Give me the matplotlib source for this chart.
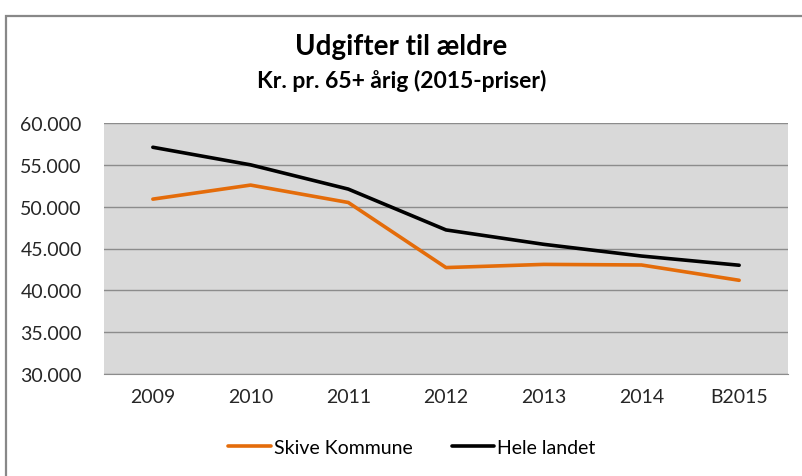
import matplotlib.pyplot as plt
from matplotlib.patches import Rectangle
from matplotlib.ticker import FuncFormatter

plt.rcParams['font.family'] = ['Lato', 'DejaVu Sans']

# Data
years = ["2009", "2010", "2011", "2012", "2013", "2014", "B2015"]
skive = [50900, 52580, 50500, 42720, 43100, 43030, 41200]
hele_landet = [57100, 55000, 52100, 47220, 45500, 44100, 43000]

fig = plt.figure(figsize=(8.03, 4.77), dpi=100)
W, H = 803, 477

# outer chart frame (cut off at right and bottom like the reference)
fig.patches.append(Rectangle((6 / W, -0.1), 1.2, 1 - 17 / H + 0.1,
                             transform=fig.transFigure, fill=False,
                             edgecolor="#888888", linewidth=1.6))

ax = fig.add_axes([104 / W, 1 - 375 / H, (788 - 104) / W, (375 - 124) / H])
ax.set_facecolor("#d9d9d9")

x = range(len(years))
ax.plot(x, skive, color="#e46c0a", linewidth=2.6, label="Skive Kommune",
        solid_capstyle="round")
ax.plot(x, hele_landet, color="black", linewidth=2.6, label="Hele landet",
        solid_capstyle="round")

ax.set_xlim(-0.5, len(years) - 0.5)
ax.set_ylim(30000, 60000)
ax.set_yticks(range(30000, 60001, 5000))
ax.yaxis.set_major_formatter(FuncFormatter(lambda v, p: f"{int(v):,}".replace(",", ".")))
ax.set_xticks(list(x))
ax.set_xticklabels(years)

ax.grid(axis="y", color="#8c8c8c", linewidth=1.0)
ax.set_axisbelow(True)
for s in ["top", "right", "left"]:
    ax.spines[s].set_visible(False)
ax.spines["bottom"].set_color("#8c8c8c")
ax.tick_params(length=0, labelsize=14, colors="#262626")
ax.tick_params(axis="y", pad=16)
ax.tick_params(axis="x", pad=10)

fig.text(0.5, 1 - 47 / H, "Udgifter til ældre", ha="center", va="center",
         fontsize=20, fontweight="bold")
fig.text(0.5, 1 - 81 / H, "Kr. pr. 65+ årig (2015-priser)", ha="center",
         va="center", fontsize=16.5, fontweight="bold")

fig.legend(loc="center", bbox_to_anchor=(412 / W, 1 - 448 / H), ncol=2,
           frameon=False, fontsize=14, handlelength=2.2, handletextpad=0.15,
           columnspacing=2.0)

fig.savefig("out.png", dpi=100)
